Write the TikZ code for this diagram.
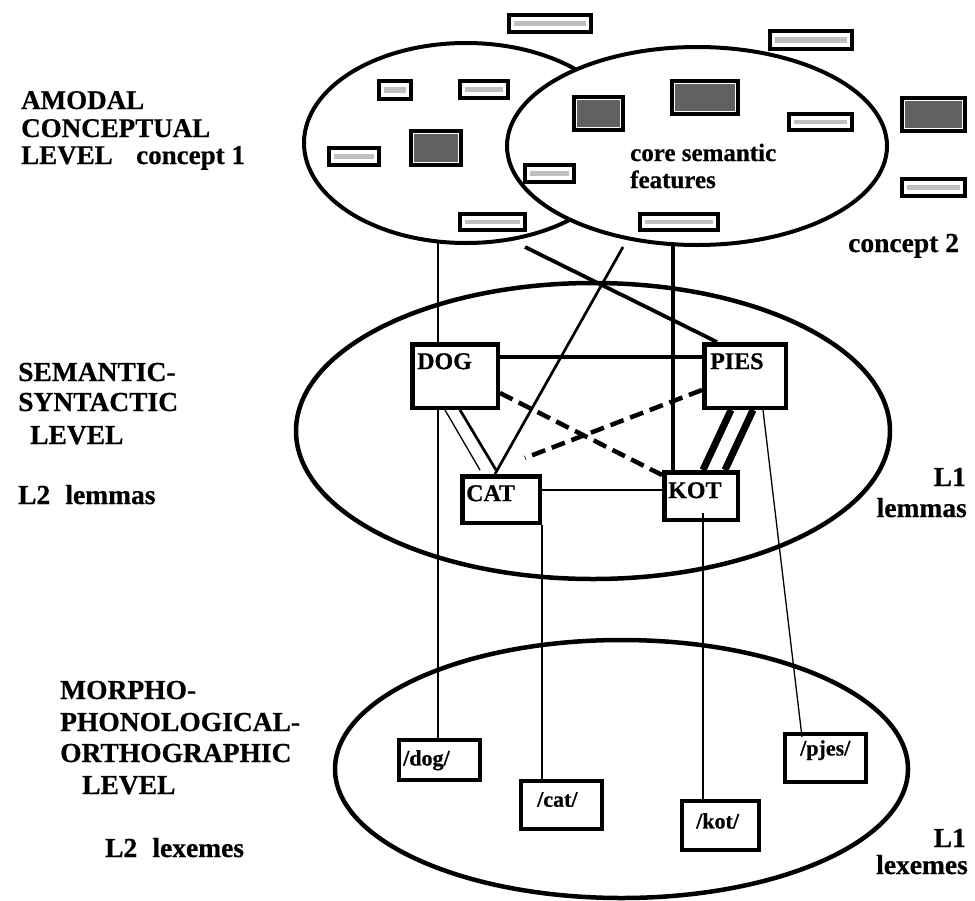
\documentclass[tikz,border=0pt]{standalone}
\usepackage{fontspec}
\setmainfont{Liberation Serif}[BoldFeatures={FakeBold=0.6}]
\usetikzlibrary{shapes.geometric}
\newcommand\fLev{\bfseries\fontsize{27.5}{31}\selectfont}
\newcommand\fTop{\bfseries\fontsize{27}{30}\selectfont}
\newcommand\fLem{\bfseries\fontsize{24}{28}\selectfont}
\newcommand\fLex{\bfseries\fontsize{22}{26}\selectfont}
\newcommand\fCore{\bfseries\fontsize{25}{29}\selectfont}
\tikzset{
  ell/.style={draw, ellipse, line width=4.5pt, inner sep=0pt},
  featbase/.style={draw, line width=4pt, fill=white, inner sep=0pt},
  featdark/.style={featbase, path picture={\fill[black!62] ([shift={(3pt,-3pt)}]path picture bounding box.north west) rectangle ([shift={(-3pt,3pt)}]path picture bounding box.south east);}},
  featlight/.style={featbase, path picture={\fill[black!25] ([shift={(5pt,-6pt)}]path picture bounding box.north west) rectangle ([shift={(-5pt,6pt)}]path picture bounding box.south east);}},
  lembox/.style={draw, line width=4.5pt, fill=white, inner sep=0pt},
  lexbox/.style={draw, line width=4pt, fill=white, inner sep=0pt},
  lvl/.style={inner sep=0pt, font=\fLev, anchor=base west},
  lvltop/.style={inner sep=0pt, font=\fTop, anchor=base west},
  lvlr/.style={inner sep=0pt, font=\fLev, anchor=base east},
  lemt/.style={inner sep=0pt, font=\fLem, anchor=north west},
  lext/.style={inner sep=0pt, font=\fLex, anchor=north west},
  coret/.style={inner sep=0pt, font=\fCore, anchor=base west},
  thinline/.style={line width=1.3pt},
  midline/.style={line width=2.7pt},
  thickline/.style={line width=3.8pt},
  vthickline/.style={line width=7pt},
  dashline/.style={line width=4.5pt, dash pattern=on 14pt off 7pt},
}
\begin{document}
\begin{tikzpicture}[x=1pt,y=-1pt]
\useasboundingbox (0,0) rectangle (975,900);
\fill[white] (0,0) rectangle (975,900);

% level ellipses
\node[ell, minimum width=594pt, minimum height=296pt] (sem) at (593,431) {};
\node[ell, minimum width=573pt, minimum height=258pt] (morph) at (621.5,769) {};
% concept ellipses
\node[ell, line width=4pt, minimum width=324pt, minimum height=200pt] (c1) at (466,143) {};
\node[ell, line width=4pt, fill=white, minimum width=380pt, minimum height=198pt] (c2) at (697,146) {};

% feature boxes
\node[featlight, minimum width=82pt, minimum height=17pt] (fa) at (550,23.5) {};
\node[featlight, minimum width=82pt, minimum height=18pt] (fb) at (811,40) {};
\node[featlight, minimum width=32pt, minimum height=18pt] (fc) at (395,90) {};
\node[featlight, minimum width=48pt, minimum height=17pt] (fd) at (484,89.5) {};
\node[featdark, minimum width=49pt, minimum height=33pt] (fe) at (598.5,113.5) {};
\node[featdark, minimum width=66pt, minimum height=33pt] (ff) at (705,97.5) {};
\node[featlight, minimum width=63pt, minimum height=16pt] (fg) at (820.5,122) {};
\node[featdark, minimum width=63pt, minimum height=33pt] (fh) at (933.5,114.5) {};
\node[featlight, minimum width=50pt, minimum height=17pt] (fi) at (354,156.5) {};
\node[featdark, minimum width=50pt, minimum height=34pt] (fj) at (436,148) {};
\node[featlight, minimum width=49pt, minimum height=17pt] (fk) at (549.5,173.5) {};
\node[featlight, minimum width=63pt, minimum height=17pt] (fl) at (933.5,187.5) {};
\node[featlight, minimum width=65pt, minimum height=16pt] (fm) at (492.5,222) {};
\node[featlight, minimum width=78pt, minimum height=16pt] (fn) at (679,222) {};

% lemma boxes
\node[lembox, minimum width=85.5pt, minimum height=63.5pt] (dog) at (455,376) {};
\node[lembox, minimum width=81.5pt, minimum height=63.5pt] (pies) at (745,376) {};
\node[lembox, minimum width=77.5pt, minimum height=46.5pt] (cat) at (501,499.5) {};
\node[lembox, minimum width=73.5pt, minimum height=47.5pt] (kot) at (701,496) {};

% lexeme boxes
\node[lexbox, minimum width=81pt, minimum height=40pt] (ldog) at (439.5,760) {};
\node[lexbox, minimum width=81pt, minimum height=48pt] (lcat) at (561.5,805) {};
\node[lexbox, minimum width=77pt, minimum height=49pt] (lkot) at (720.5,825.5) {};
\node[lexbox, minimum width=81pt, minimum height=48pt] (lpjes) at (825.5,758) {};

% free ends
\coordinate (e1b) at (438,242);
\coordinate (t1) at (525,247);
\coordinate (t2) at (623,247);
\coordinate (e2b) at (673,244);
\coordinate (dsh) at (525,458);
\coordinate (kin) at (703,513);

% connectors
\draw[midline] (e1b) -- (dog.north -| e1b);
\draw[thinline] (dog.south -| e1b) -- (ldog.north -| e1b);
\draw[thickline] (t1) -- ([xshift=15pt]pies.north west);
\draw[midline] (t2) -- ([xshift=35pt]cat.north west);
\draw[thickline] (e2b) -- (kot.north -| e2b);
\draw[thickline] ([yshift=-15pt]dog.north east) -- ([yshift=-15pt]pies.north west);
\draw[dashline] ([yshift=-51pt]dog.north east) -- ([yshift=-5pt]kot.north west);
\draw[dashline] ([yshift=-48pt]pies.north west) -- (dsh);
\draw[thinline] ([xshift=35pt]dog.south west) -- ([shift={(20pt,4pt)}]cat.north west);
\draw[midline] ([xshift=50pt]dog.south west) -- ([shift={(36pt,4pt)}]cat.north west);
\draw[midline] ([yshift=-16pt]cat.north east) -- ([yshift=-20pt]kot.north west);
\draw[vthickline] ([xshift=29pt]pies.south west) -- ([xshift=41pt]kot.north west);
\draw[vthickline] ([xshift=51pt]pies.south west) -- ([xshift=63pt]kot.north west);
\draw[thinline] (kin) -- (lkot.north -| kin);
\draw[thinline] ([xshift=61pt]pies.south west) -- ([shift={(19pt,-5pt)}]lpjes.north west);
\draw[thinline] (cat.south east) -- (lcat.north -| cat.south east);

% box labels
\node[lemt] (dogt) at (417,353) {DOG};
\node[lemt] (piest) at (710,353) {PIES};
\node[lemt] (catt) at (466,485) {CAT};
\node[lemt] (kott) at (668,482) {KOT};
\node[lext] (ldogt) at (403,750) {/dog/};
\node[lext] (lcatt) at (537,792) {/cat/};
\node[lext] (lkott) at (696,813) {/kot/};
\node[lext] (lpjest) at (800,740) {/pjes/};

% texts
\node[coret] (core1) at (630,161) {core semantic};
\node[coret] (core2) at (630,188) {features};
\node[lvltop] (amodal) at (21,109) {AMODAL};
\node[lvltop] (concl) at (21,137) {CONCEPTUAL};
\node[lvltop] (levl1) at (21,164) {LEVEL};
\node[lvltop] (conc1) at (136,164) {concept 1};
\node[lvl] (conc2) at (848,252) {concept 2};
\node[lvl] (sem1) at (18,381) {SEMANTIC-};
\node[lvl] (sem2) at (18,411) {SYNTACTIC};
\node[lvl] (sem3) at (30,444) {LEVEL};
\node[lvl] (l2lem) at (18,504) {L2\hspace{0.55em}lemmas};
\node[lvlr] (l1a) at (966,486) {L1};
\node[lvlr] (l1b) at (967,517) {lemmas};
\node[lvl] (mor1) at (60,699) {MORPHO-};
\node[lvl] (mor2) at (60,731) {PHONOLOGICAL-};
\node[lvl] (mor3) at (60,762) {ORTHOGRAPHIC};
\node[lvl] (mor4) at (82,794) {LEVEL};
\node[lvl] (l2lex) at (105,857) {L2\hspace{0.55em}lexemes};
\node[lvlr] (l1c) at (966,847) {L1};
\node[lvlr] (l1d) at (968,874) {lexemes};
\end{tikzpicture}
\end{document}
